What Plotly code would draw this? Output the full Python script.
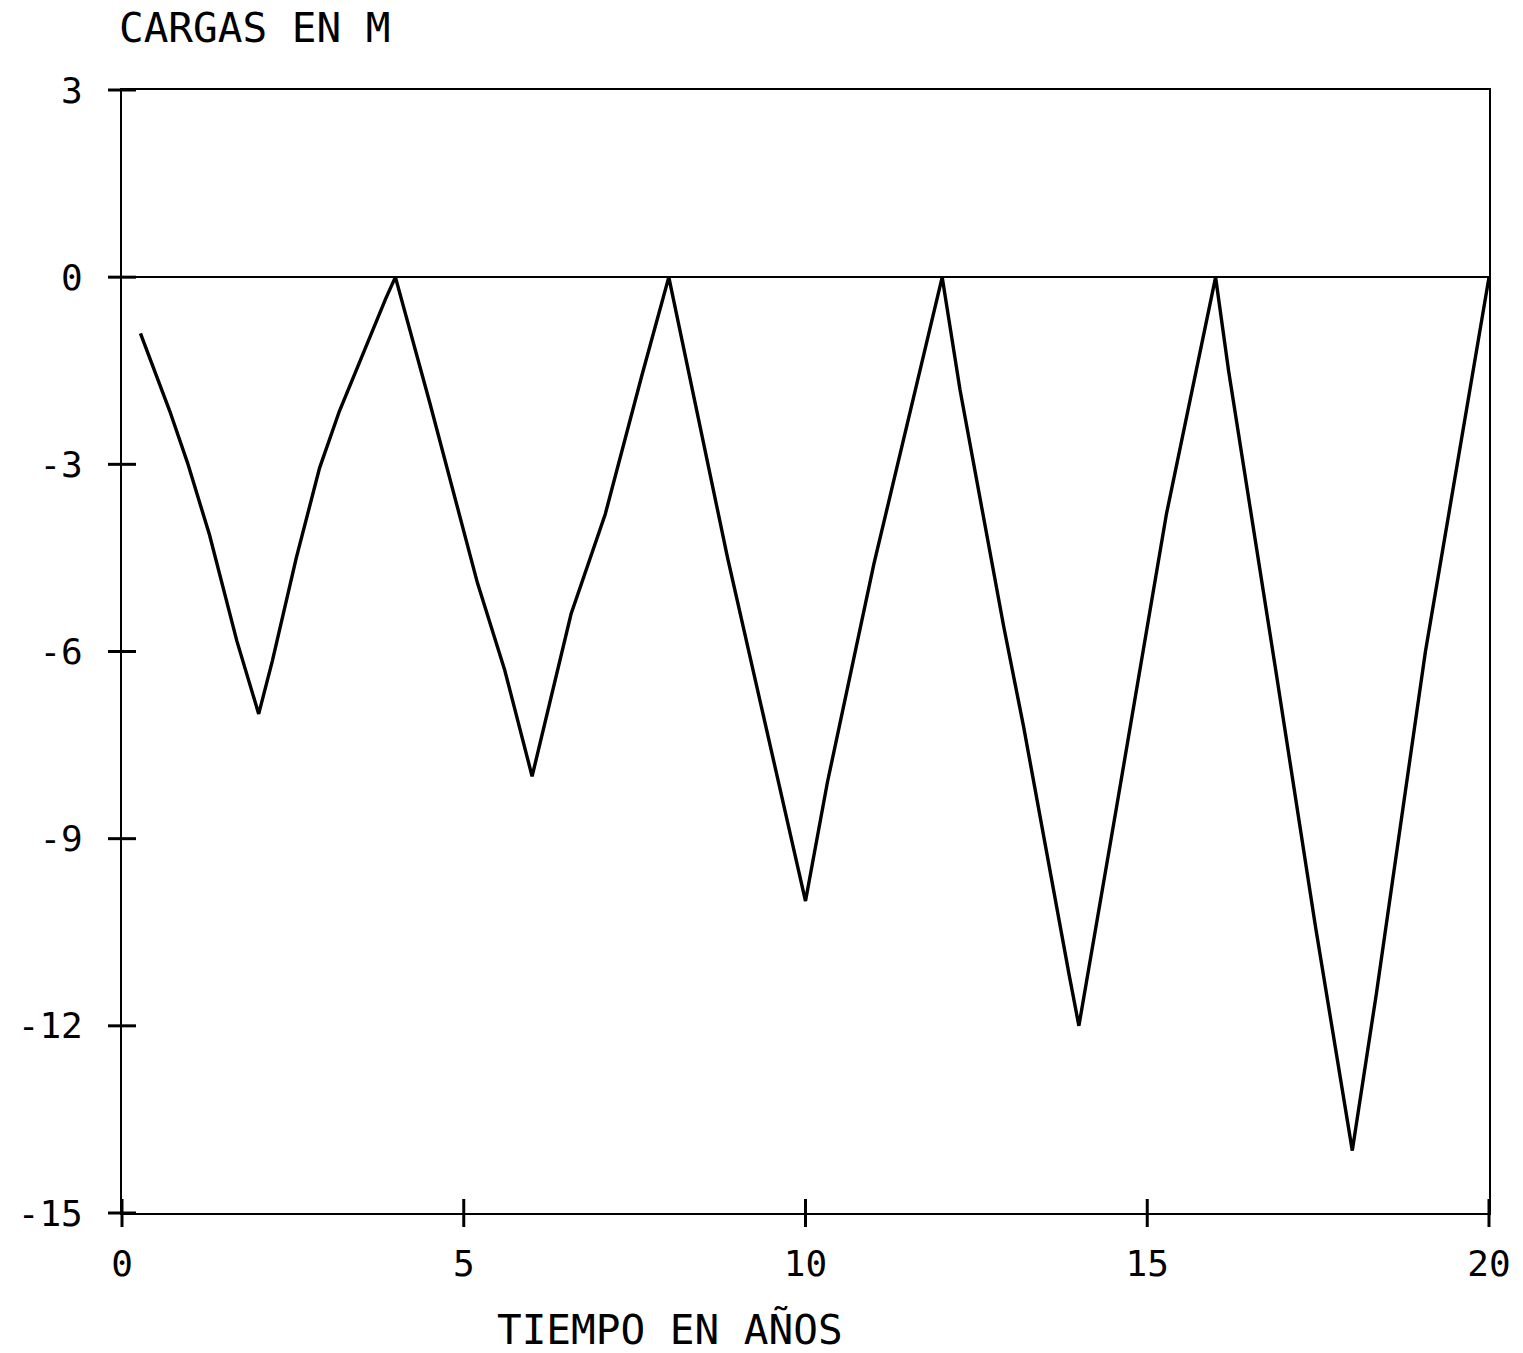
import plotly.graph_objects as go

# Data (time in years, load in m)
tiempo = [0.27, 0.70, 0.96, 1.28, 1.68, 2.0,
          2.2, 2.55, 2.89, 3.18, 3.86, 4.0,
          4.5, 5.2, 5.6, 6.0,
          6.57, 7.07, 7.6, 8.0,
          8.86, 9.55, 10.0,
          10.32, 11.0, 12.0,
          12.26, 12.9, 13.19, 13.86, 14.0,
          14.55, 15.28, 16.0,
          16.19, 16.88, 17.46, 18.0,
          18.35, 19.07, 19.55, 20.0]
cargas = [-0.9, -2.15, -2.98, -4.13, -5.83, -7.0,
          -6.15, -4.5, -3.06, -2.15, -0.34, 0.0,
          -2.0, -4.9, -6.3, -8.0,
          -5.4, -3.8, -1.6, 0.0,
          -4.5, -7.8, -10.0,
          -8.1, -4.6, 0.0,
          -1.8, -5.6, -7.2, -11.2, -12.0,
          -8.5, -3.8, 0.0,
          -1.5, -6.3, -10.4, -14.0,
          -11.5, -6.0, -2.9, 0.0]

x_ticks = [0, 5, 10, 15, 20]
x_labels = ["0", "5", "10", "15", "20"]
y_ticks = [3, 0, -3, -6, -9, -12, -15]
y_labels = ["3", "0", "-3", "-6", "-9", "-12", "-15"]

FONT = "DejaVu Sans Mono"

fig = go.Figure()
fig.add_trace(go.Scatter(x=tiempo, y=cargas, mode="lines",
                         line=dict(color="black", width=3.4),
                         showlegend=False, hoverinfo="skip"))
# crossing tick marks on the axes
fig.add_trace(go.Scatter(x=[0] * len(y_ticks), y=y_ticks, mode="markers",
                         marker=dict(symbol="line-ew", size=20,
                                     line=dict(color="black", width=3)),
                         cliponaxis=False, showlegend=False, hoverinfo="skip"))
fig.add_trace(go.Scatter(x=x_ticks, y=[-15] * len(x_ticks), mode="markers",
                         marker=dict(symbol="line-ns", size=20,
                                     line=dict(color="black", width=3)),
                         cliponaxis=False, showlegend=False, hoverinfo="skip"))

axis_common = dict(showgrid=False, showline=True, linecolor="black", linewidth=2,
                   ticks="", mirror=True)

fig.update_layout(
    width=1523, height=1353,
    margin=dict(l=122, r=27, t=90, b=140),
    paper_bgcolor="white", plot_bgcolor="white",
    font=dict(family=FONT, color="black"),
    xaxis=dict(range=[0, 20], tickvals=x_ticks, ticktext=x_labels, zeroline=False,
               tickfont=dict(size=36, family=FONT), ticklabelstandoff=18,
               **axis_common),
    yaxis=dict(range=[-15, 3], tickvals=y_ticks, ticktext=y_labels,
               zeroline=True, zerolinecolor="black", zerolinewidth=2,
               tickfont=dict(size=36, family=FONT), ticklabelstandoff=30,
               **axis_common),
    annotations=[
        dict(text="CARGAS EN M", xref="paper", yref="paper", x=-0.004, y=1.0,
             yshift=62, xanchor="left", yanchor="middle", showarrow=False,
             font=dict(size=41, family=FONT, color="black")),
        dict(text="TIEMPO EN AÑOS", xref="paper", yref="paper", x=0.401, y=0,
             yshift=-117, xanchor="center", yanchor="middle", showarrow=False,
             font=dict(size=41, family=FONT, color="black")),
    ],
)

fig.write_html("out.html")
